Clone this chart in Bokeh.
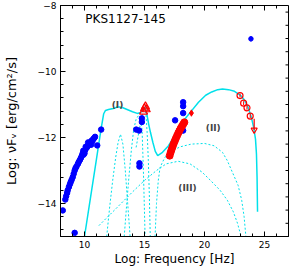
from bokeh.plotting import figure
from bokeh.models import SingleIntervalTicker, Label, Range1d
from bokeh.embed import file_html
from bokeh.resources import INLINE

# ---------------- data ----------------
radio_x = [8.19, 8.40, 8.47, 8.55, 8.60, 8.70, 8.78, 8.85, 8.93, 9.02, 9.10, 9.18,
           9.25, 9.33, 9.45, 9.52, 9.62, 9.70, 9.78, 9.85, 9.92, 9.98, 10.05, 10.12,
           10.20, 10.28, 10.35, 10.42, 10.50, 10.58, 10.65, 10.72, 10.80, 10.88,
           9.90, 10.00, 10.30, 10.55, 10.10, 9.18]
radio_y = [-14.21, -13.88, -13.78, -13.68, -13.60, -13.50, -13.42, -13.35, -13.28, -13.20,
           -13.10, -13.00, -12.93, -12.88, -12.80, -12.74, -12.68, -12.62, -12.55, -12.48,
           -12.52, -12.42, -12.38, -12.33, -12.30, -12.25, -12.22, -12.18, -12.15, -12.10,
           -12.12, -12.05, -12.02, -11.98, -12.40, -12.48, -12.15, -12.22, -12.28, -14.89]

blue_x = [11.06, 11.39, 14.31, 14.55, 14.78, 14.78, 14.58, 14.58, 17.55, 18.22, 18.22, 18.22, 18.22]
blue_y = [-12.24, -11.76, -11.76, -11.79, -11.42, -11.53, -12.78, -12.88, -11.48, -10.93, -11.05, -11.26, -11.79]

gam_x = [23.87]
gam_y = [-9.01]
gam_err = [0.08]

uv_x = [14.92, 15.00, 15.08, 15.15]
uv_y = [-11.22, -11.12, -11.06, -11.15]

xr_x = [17.10, 17.18, 17.26, 17.35, 17.44, 17.53, 17.62, 17.72, 17.82, 17.92, 18.02, 18.12, 18.22, 18.32]
xr_y = [-12.55, -12.45, -12.36, -12.27, -12.18, -12.10, -12.02, -11.94, -11.86, -11.79, -11.72, -11.66, -11.60, -11.54]

hx_x = [18.91]
hx_y = [-11.26]
hx_err = [0.10]

fermi_x = [22.96, 23.26, 23.54, 23.81]
fermi_y = [-10.73, -10.96, -11.10, -11.35]
fermi_err = [0.06, 0.06, 0.06, 0.06]

ul_x = [24.14]
ul_top = [-11.43]
ul_y = [-11.77]

total_x = [10.0, 10.5, 11.0, 11.4, 11.6, 11.75, 12.0, 12.4, 12.8, 13.2, 13.6, 14.0, 14.4, 14.7,
           14.9, 15.05, 15.2, 15.35, 15.5, 15.7, 15.9, 16.1, 16.5, 17.0, 17.5, 18.0, 18.5, 18.9,
           19.5, 20.1, 20.6, 21.1, 21.5, 22.0, 22.5, 23.0, 23.3, 23.6, 23.9, 24.1, 24.25, 24.33,
           24.38, 24.42]
total_y = [-15.0, -13.82, -12.65, -11.70, -11.28, -11.18, -11.15, -11.12, -11.07, -11.10, -11.16,
           -11.22, -11.27, -11.24, -11.12, -11.08, -11.30, -11.60, -11.85, -12.15, -12.42, -12.55,
           -12.45, -12.25, -11.95, -11.62, -11.38, -11.20, -10.93, -10.72, -10.62, -10.55, -10.53,
           -10.55, -10.60, -10.72, -10.85, -11.05, -11.38, -11.70, -12.05, -12.50, -13.20, -14.25]

compA_x = [11.85, 12.1, 12.35, 12.6, 12.8, 13.0, 13.2, 13.4, 13.6, 13.8]
compA_y = [-15.0, -14.1, -13.3, -12.6, -12.15, -11.9, -12.2, -13.0, -14.0, -15.0]

compB_x = [13.31, 13.5, 13.7, 13.9, 14.1, 14.3, 14.5, 14.7, 14.8, 14.9, 14.98, 15.05]
compB_y = [-15.0, -14.1, -13.2, -12.4, -11.75, -11.45, -11.33, -11.40, -11.80, -12.90, -14.0, -15.0]

compC_x = [14.3, 14.6, 14.85, 15.0, 15.12, 15.22, 15.32, 15.4, 15.48]
compC_y = [-12.3, -11.7, -11.25, -11.1, -11.3, -11.85, -12.7, -13.7, -15.0]

compII_x = [15.88, 16.0, 16.15, 16.3, 16.7, 17.3, 18.0, 18.9, 20.0, 20.8, 21.5, 21.9, 22.5, 22.8,
            23.1, 23.3, 23.45]
compII_y = [-15.0, -14.0, -13.3, -12.9, -12.6, -12.4, -12.28, -12.2, -12.18, -12.25, -12.45, -12.7,
            -13.2, -13.45, -13.9, -14.4, -15.0]

compIII_x = [11.2, 12.5, 14.0, 15.0, 16.0, 16.8, 17.8, 18.8, 19.8, 20.5, 21.3, 21.9, 22.4, 22.75, 23.05]
compIII_y = [-14.67, -14.2, -13.65, -13.3, -13.0, -12.8, -12.72, -12.8, -13.05, -13.3, -13.6, -13.9,
             -14.25, -14.6, -15.0]

# axis ranges and tick values
x_lo, x_hi = 8, 27
y_lo, y_hi = -15, -8
x_major_step, x_minor_step = 5, 1
y_major_step, y_minor_step = 2, 0.4

CYAN = "#00e0ea"
FONT = "DejaVu Sans"

W, H = 291, 269
BL, BR, BT, BB = 58, 3, 5, 33

# ---------------- figure ----------------
p = figure(width=W, height=H, x_range=Range1d(x_lo, x_hi), y_range=Range1d(y_lo, y_hi),
           output_backend="svg", toolbar_location=None,
           min_border_left=BL, min_border_right=BR, min_border_top=BT, min_border_bottom=BB)
p.grid.visible = False
p.outline_line_color = "black"
p.background_fill_color = "white"
p.border_fill_color = "white"

p.xaxis.ticker = SingleIntervalTicker(interval=x_major_step, num_minor_ticks=5)
p.yaxis.ticker = SingleIntervalTicker(interval=y_major_step, num_minor_ticks=5)

for ax in p.xaxis + p.yaxis:
    ax.major_tick_in = 5
    ax.major_tick_out = 0
    ax.minor_tick_in = 3
    ax.minor_tick_out = 0
    ax.axis_line_color = "black"
    ax.major_tick_line_color = "black"
    ax.minor_tick_line_color = "black"
    ax.major_label_text_font = FONT
    ax.major_label_text_font_size = "9px"
    ax.major_label_text_color = "black"
    ax.major_label_standoff = 4
    ax.axis_label_text_font = FONT
    ax.axis_label_text_font_style = "normal"
    ax.axis_label_text_color = "black"

p.xaxis.axis_label = "Log: Frequency [Hz]"
p.xaxis.axis_label_text_font_size = "12px"
p.xaxis.axis_label_standoff = 1
p.yaxis.axis_label = "Log: \u03bdF\u1d65 [erg/cm\u00b2/s]"
p.yaxis.axis_label_text_font_size = "13px"
p.yaxis.axis_label_standoff = 16

# mirrored tick marks on the top and right frame edges
fw = W - BL - BR
fh = H - BT - BB
dx_per_px = (x_hi - x_lo) / fw
dy_per_px = (y_hi - y_lo) / fh
xt_major = [v for v in range(x_lo, x_hi + 1) if v % x_major_step == 0]
xt_minor = [v for v in range(x_lo, x_hi + 1) if v % x_major_step != 0]
n_y = int(round((y_hi - y_lo) / y_minor_step))
yt_all = [round(y_lo + i * y_minor_step, 3) for i in range(n_y + 1)]
yt_major = [v for v in yt_all if abs(v / y_major_step - round(v / y_major_step)) < 1e-6]
yt_minor = [v for v in yt_all if v not in yt_major]

for vals, ln in [(xt_major, 5), (xt_minor, 3)]:
    p.segment(vals, [y_hi] * len(vals), vals, [y_hi - ln * dy_per_px] * len(vals),
              line_color="black", line_width=1)
for vals, ln in [(yt_major, 5), (yt_minor, 3)]:
    p.segment([x_hi] * len(vals), vals, [x_hi - ln * dx_per_px] * len(vals), vals,
              line_color="black", line_width=1)

# ---------------- model curves ----------------
for cx, cy in [(compA_x, compA_y), (compB_x, compB_y), (compC_x, compC_y),
               (compII_x, compII_y), (compIII_x, compIII_y)]:
    p.line(cx, cy, line_color=CYAN, line_width=1, line_dash="2 2")
p.line(total_x, total_y, line_color=CYAN, line_width=1.5)

# ---------------- data points ----------------
p.scatter(radio_x, radio_y, marker="circle", size=5.5, fill_color="blue", line_color="blue")
p.scatter(blue_x, blue_y, marker="circle", size=5.5, fill_color="blue", line_color="blue")
p.segment([gam_x[0]], [gam_y[0] - gam_err[0]], [gam_x[0]], [gam_y[0] + gam_err[0]],
          line_color="blue", line_width=1)
p.scatter(gam_x, gam_y, marker="circle", size=4.5, fill_color="blue", line_color="blue")

p.scatter(uv_x, uv_y, marker="triangle", size=8, fill_color=None, line_color="red", line_width=1.2)
p.scatter(xr_x, xr_y, marker="circle", size=7, fill_color="red", line_color="red")
p.segment(hx_x, [hx_y[0] - hx_err[0]], hx_x, [hx_y[0] + hx_err[0]], line_color="red", line_width=1)
p.scatter(hx_x, hx_y, marker="diamond", size=6, fill_color="red", line_color="red")

p.segment(fermi_x, [y - e for y, e in zip(fermi_y, fermi_err)],
          fermi_x, [y + e for y, e in zip(fermi_y, fermi_err)], line_color="red", line_width=1)
p.scatter(fermi_x, fermi_y, marker="circle", size=6, fill_color=None, line_color="red", line_width=1.2)
p.segment(ul_x, ul_top, ul_x, ul_y, line_color="red", line_width=1.2)
p.scatter(ul_x, ul_y, marker="inverted_triangle", size=6, fill_color=None, line_color="red", line_width=1.2)

# ---------------- texts ----------------
p.add_layout(Label(x=10.07, y=-8.42, text="PKS1127-145", text_font=FONT, text_font_size="12px",
                   text_baseline="middle", text_align="left", text_color="black"))
p.add_layout(Label(x=12.75, y=-11.0, text="(I)", text_font=FONT, text_font_size="9px",
                   text_font_style="bold", text_align="center", text_baseline="middle"))
p.add_layout(Label(x=20.73, y=-11.7, text="(II)", text_font=FONT, text_font_size="9px",
                   text_font_style="bold", text_align="center", text_baseline="middle"))
p.add_layout(Label(x=18.58, y=-13.52, text="(III)", text_font=FONT, text_font_size="9px",
                   text_font_style="bold", text_align="center", text_baseline="middle"))

open("out.html", "w").write(file_html(p, INLINE))
